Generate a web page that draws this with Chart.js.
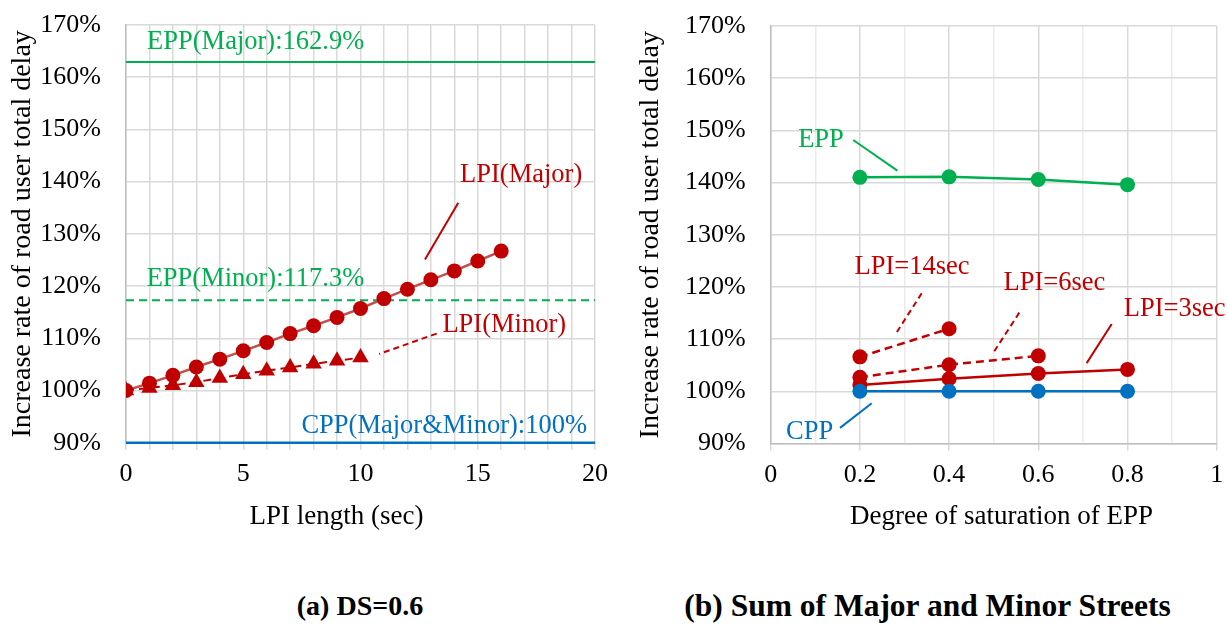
<!DOCTYPE html>
<html><head><meta charset="utf-8">
<script src="https://cdn.jsdelivr.net/npm/chart.js@4.4.1/dist/chart.umd.min.js"></script>
<style>
html,body{margin:0;padding:0;background:#fff;width:1227px;height:641px;overflow:hidden;}
canvas{position:absolute;top:0;}
#ca{left:0;}
#cb{left:620px;}
.cap{position:absolute;font-weight:bold;font-family:"Liberation Serif",serif;color:#000;white-space:nowrap;transform:translate(-50%,-50%);line-height:1;}
</style></head><body>
<canvas id="ca" width="610" height="533"></canvas>
<canvas id="cb" width="607" height="533"></canvas>
<div class="cap" style="left:360px;top:606px;font-size:28px">(a) DS=0.6</div>
<div class="cap" style="left:927.5px;top:606px;font-size:31.5px">(b) Sum of Major and Minor Streets</div>
<script>
// ---- data: chart (a) ----
const lpiLengthsMajor = [0,1,2,3,4,5,6,7,8,9,10,11,12,13,14,15,16];
const lpiMajor = [100,101.4,102.9,104.5,106.0,107.6,109.2,110.9,112.4,114.0,115.7,117.6,119.4,121.2,122.9,124.8,126.7];
const lpiLengthsMinor = [0,1,2,3,4,5,6,7,8,9,10];
const lpiMinor = [100,100.5,101.0,101.6,102.4,103.1,103.8,104.4,105.1,105.7,106.3];
const lpiRange = [0,20];
const eppMajor = 162.9;
const eppMinor = 117.3;
const cppLineA = 90;
// ---- data: chart (b) ----
const dsValues = [0.2,0.4,0.6,0.8];
const eppSum = [141.0,141.1,140.6,139.6];
const lpi14 = [106.6,112.0];
const lpi6 = [102.7,105.1,106.8];
const lpi3 = [101.2,102.4,103.4,104.2];
const cppSum = [100,100,100,100];
// ---- tick labels ----
const yTicks = [90,100,110,120,130,140,150,160,170];
const xTicksA = [0,5,10,15,20];
const xTicksB = [0,0.2,0.4,0.6,0.8,1];

const RED='#C00000', RED2='#C0504D', GREEN='#00B050', BLUE='#0070C0';
const FONT='"Liberation Serif", serif';
const pts=(xs,ys)=>xs.map((x,i)=>({x,y:ys[i]}));

const annot={
  id:'annot',
  afterDatasetsDraw(chart,args,opts){
    const {ctx,scales:{x,y}}=chart;
    ctx.save();
    (opts.lines||[]).forEach(l=>{
      ctx.beginPath();ctx.strokeStyle=l.color;ctx.lineWidth=2;ctx.setLineDash(l.dash||[]);
      ctx.moveTo(x.getPixelForValue(l.x1),y.getPixelForValue(l.y1));
      ctx.lineTo(x.getPixelForValue(l.x2),y.getPixelForValue(l.y2));
      ctx.stroke();
    });
    ctx.setLineDash([]);
    (opts.labels||[]).forEach(t=>{
      ctx.font='26.5px '+FONT;ctx.fillStyle=t.color;ctx.textAlign=t.align||'center';ctx.textBaseline='middle';
      ctx.fillText(t.text,x.getPixelForValue(t.x),y.getPixelForValue(t.y));
    });
    if(opts.xTitle){
      ctx.font='27px '+FONT;ctx.fillStyle='#000';ctx.textAlign='center';ctx.textBaseline='middle';
      ctx.fillText(opts.xTitle.text,opts.xTitle.px,opts.xTitle.py);
    }
    ctx.restore();
  }
};

function yScale(w,tp){
  return {type:'linear',min:90,max:170,
    afterBuildTicks:s=>{s.ticks=yTicks.map(v=>({value:v}));},
    afterFit:s=>{s.width=w;s.paddingTop=0;s.paddingBottom=0;},
    ticks:{callback:v=>v+'%',color:'#000',font:{family:FONT,size:26},padding:25},
    grid:{color:'#D9D9D9',lineWidth:1.5,drawTicks:false},
    border:{color:'#BFBFBF',width:1.5},
    title:{display:true,text:'Increase rate of road user total delay',color:'#000',font:{family:FONT,size:28},padding:{top:tp,bottom:0}}
  };
}

new Chart(document.getElementById('ca'),{
  type:'line',
  data:{datasets:[
    {label:'LPI(Minor)',data:pts(lpiLengthsMinor,lpiMinor),borderColor:RED,backgroundColor:RED,borderWidth:2,borderDash:[8,5],pointStyle:'triangle',pointRadius:9.5,pointBorderWidth:0},
    {label:'LPI(Major)',data:pts(lpiLengthsMajor,lpiMajor),borderColor:RED2,backgroundColor:RED,pointBackgroundColor:RED,borderWidth:2.5,pointRadius:7.5,pointBorderWidth:0},
    {label:'EPP(Major)',data:pts(lpiRange,[eppMajor,eppMajor]),borderColor:GREEN,borderWidth:2,pointRadius:0},
    {label:'EPP(Minor)',data:pts(lpiRange,[eppMinor,eppMinor]),borderColor:GREEN,borderWidth:2,borderDash:[8,5],pointRadius:0},
    {label:'CPP',data:pts(lpiRange,[cppLineA,cppLineA]),borderColor:BLUE,borderWidth:2.5,pointRadius:0,clip:false}
  ]},
  options:{responsive:false,animation:false,devicePixelRatio:1,
    layout:{padding:{left:0,top:25,right:15,bottom:0}},
    plugins:{legend:{display:false},tooltip:{enabled:false},
      annot:{
        xTitle:{text:'LPI length (sec)',px:336.5,py:517},
        lines:[
          {x1:14.17,y1:135.96,x2:12.75,y2:125.1,color:RED},
          {x1:13.25,y1:110.9,x2:10.8,y2:107.0,color:RED,dash:[6,4]}
        ],
        labels:[
          {text:'EPP(Major):162.9%',x:0.9,y:166.8,color:GREEN,align:'left'},
          {text:'EPP(Minor):117.3%',x:0.88,y:121.3,color:GREEN,align:'left'},
          {text:'CPP(Major&Minor):100%',x:19.66,y:93.24,color:BLUE,align:'right'},
          {text:'LPI(Major)',x:16.85,y:141.3,color:RED},
          {text:'LPI(Minor)',x:16.13,y:112.5,color:RED}
        ]
      }
    },
    scales:{
      x:{type:'linear',min:0,max:20,
        afterBuildTicks:s=>{const t=[];for(let v=0;v<=20;v++)t.push({value:v});s.ticks=t;},
        afterFit:s=>{s.height=90.3;s.paddingLeft=0;s.paddingRight=0;},
        ticks:{autoSkip:false,maxRotation:0,callback:v=>xTicksA.includes(v)?String(v):'',color:'#000',font:{family:FONT,size:26},padding:9},
        grid:{color:'#D9D9D9',lineWidth:1.5,tickLength:7},
        border:{color:'#BFBFBF',width:1.5},
        title:{display:false,text:'LPI length (sec)'}
      },
      y:yScale(126,6)
    }
  },
  plugins:[annot]
});

new Chart(document.getElementById('cb'),{
  type:'line',
  data:{datasets:[
    {label:'CPP',data:pts(dsValues,cppSum),borderColor:BLUE,backgroundColor:BLUE,borderWidth:2.5,pointRadius:7.5,pointBorderWidth:0},
    {label:'LPI=3sec',data:pts(dsValues,lpi3),borderColor:RED,backgroundColor:RED,borderWidth:2.5,pointRadius:7.5,pointBorderWidth:0},
    {label:'LPI=6sec',data:pts(dsValues.slice(0,3),lpi6),borderColor:RED,backgroundColor:RED,borderWidth:2.5,borderDash:[8,5],pointRadius:7.5,pointBorderWidth:0},
    {label:'LPI=14sec',data:pts(dsValues.slice(0,2),lpi14),borderColor:RED,backgroundColor:RED,borderWidth:2.5,borderDash:[8,5],pointRadius:7.5,pointBorderWidth:0},
    {label:'EPP',data:pts(dsValues,eppSum),borderColor:GREEN,backgroundColor:GREEN,borderWidth:2.5,pointRadius:7.5,pointBorderWidth:0}
  ]},
  options:{responsive:false,animation:false,devicePixelRatio:1,
    layout:{padding:{left:0,top:26,right:10.3,bottom:0}},
    plugins:{legend:{display:false},tooltip:{enabled:false},
      annot:{
        xTitle:{text:'Degree of saturation of EPP',px:381.5,py:517},
        lines:[
          {x1:0.185,y1:148.16,x2:0.284,y2:142.3,color:GREEN},
          {x1:0.3386,y1:118.78,x2:0.2825,y2:111.3,color:RED,dash:[6,4]},
          {x1:0.5574,y1:115.07,x2:0.5007,y2:107.6,color:RED,dash:[6,4]},
          {x1:0.7646,y1:112.9,x2:0.7085,y2:105.4,color:RED},
          {x1:0.2265,y1:97.7,x2:0.1554,y2:93.0,color:BLUE}
        ],
        labels:[
          {text:'EPP',x:0.1128,y:148.16,color:GREEN},
          {text:'LPI=14sec',x:0.317,y:123.76,color:RED},
          {text:'LPI=6sec',x:0.6363,y:120.81,color:RED},
          {text:'LPI=3sec',x:0.9058,y:115.7,color:RED},
          {text:'CPP',x:0.0874,y:92.1,color:BLUE}
        ]
      }
    },
    scales:{
      x:{type:'linear',min:0,max:1,
        afterBuildTicks:s=>{const t=[];for(let i=0;i<=10;i++)t.push({value:i/10});s.ticks=t;},
        afterFit:s=>{s.height=89.5;s.paddingLeft=0;s.paddingRight=0;},
        ticks:{autoSkip:false,maxRotation:0,callback:(v,i)=>(i%2===0)?String(xTicksB[i/2]):'',color:'#000',font:{family:FONT,size:26},padding:9},
        grid:{color:c=>(c.index%2===0)?'#D9D9D9':'#EBEBEB',lineWidth:1.5,tickLength:7,tickColor:c=>(c.index%2===0)?'#D9D9D9':'rgba(0,0,0,0)'},
        border:{color:'#BFBFBF',width:1.5},
        title:{display:false,text:'Degree of saturation of EPP'}
      },
      y:yScale(150.7,14)
    }
  },
  plugins:[annot]
});
</script>
</body></html>
